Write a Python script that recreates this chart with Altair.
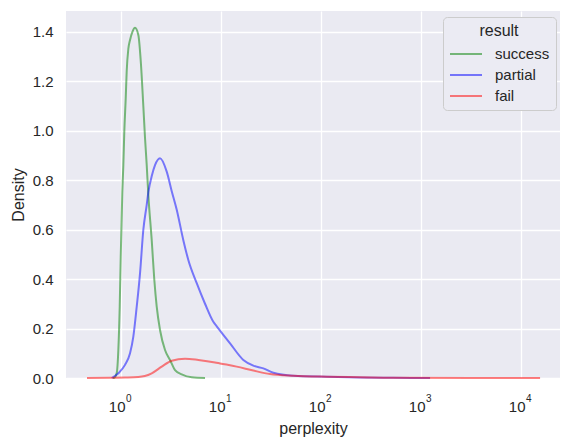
import altair as alt
import pandas as pd

# ---- data (x = perplexity, y = density) ----
success_x = [0.841, 0.867, 0.916, 0.951, 0.982, 1.005, 1.042, 1.067, 1.091, 1.127,
             1.153, 1.197, 1.245, 1.318, 1.396, 1.507, 1.603, 1.690, 1.758, 1.828,
             1.897, 2.051, 2.178, 2.301, 2.483, 2.786, 3.126, 3.508, 4.093, 5.152, 6.998]
success_y = [0.0, 0.001, 0.02, 0.113, 0.29, 0.49, 0.75, 0.86, 0.995, 1.13,
             1.24, 1.33, 1.366, 1.40, 1.415, 1.386, 1.265, 1.10, 0.97, 0.86,
             0.74, 0.557, 0.396, 0.288, 0.194, 0.113, 0.073, 0.032, 0.015, 0.003, 0.0]

partial_x = [0.817, 0.951, 1.109, 1.245, 1.343, 1.452, 1.567, 1.690, 1.828, 1.897,
             2.065, 2.213, 2.483, 2.897, 3.251, 3.648, 4.246, 4.764, 5.781, 6.998,
             8.472, 9.162, 12.45, 16.90, 21.28, 26.79, 33.73, 53.46, 115.3, 248.3,
             530.9, 1245.0]
partial_y = [0.0, 0.019, 0.053, 0.10, 0.167, 0.288, 0.423, 0.598, 0.70, 0.75,
             0.82, 0.86, 0.888, 0.834, 0.755, 0.68, 0.557, 0.477, 0.383, 0.30,
             0.227, 0.209, 0.14, 0.073, 0.05, 0.039, 0.021, 0.009, 0.005, 0.002,
             0.001, 0.0]

fail_x = [0.462, 0.785, 1.109, 1.507, 1.750, 2.051, 2.583, 3.251, 4.416, 5.998,
          8.810, 9.886, 14.52, 21.28, 31.26, 53.46, 115.3, 248.3, 530.9, 15670.0]
fail_y = [0.0, 0.001, 0.002, 0.004, 0.008, 0.019, 0.046, 0.07, 0.078, 0.073,
          0.063, 0.059, 0.046, 0.03, 0.016, 0.009, 0.005, 0.003, 0.001, 0.0]

results = ["success", "partial", "fail"]
colors = ["green", "blue", "red"]

tick_values = [1, 10, 100, 1000, 10000]
tick_base = ["10", "10", "10", "10", "10"]
tick_exp = ["0", "1", "2", "3", "4"]
y_ticks = [0.0, 0.2, 0.4, 0.6, 0.8, 1.0, 1.2, 1.4]

rows = []
for name, xs, ys in [("success", success_x, success_y),
                     ("partial", partial_x, partial_y),
                     ("fail", fail_x, fail_y)]:
    for i, (x, y) in enumerate(zip(xs, ys)):
        rows.append({"perplexity": x, "density": y, "result": name, "i": i})
df = pd.DataFrame(rows)
ticks = pd.DataFrame({"v": tick_values, "base": tick_base, "exp": tick_exp})

TXT = "#262626"
FONT = "Liberation Sans"

xscale = alt.Scale(type="log", domain=[0.285, 24800], nice=False)

lines = alt.Chart(df).mark_line(
    strokeWidth=2, opacity=0.5, interpolate="monotone"
).encode(
    x=alt.X("perplexity:Q", scale=xscale,
            axis=alt.Axis(values=tick_values, labels=False, ticks=False, domain=False,
                          title="perplexity", titleFontSize=16, titleFont=FONT,
                          titleFontWeight="normal", titleColor=TXT, titlePadding=42,
                          gridColor="white", gridWidth=1.3)),
    y=alt.Y("density:Q", scale=alt.Scale(domain=[0, 1.483], nice=False),
            axis=alt.Axis(values=y_ticks, format=".1f", ticks=False, domain=False,
                          labelFontSize=15, labelFont=FONT, labelColor=TXT,
                          labelPadding=13, title="Density", titleFontSize=16,
                          titleFont=FONT, titleFontWeight="normal", titleColor=TXT,
                          titlePadding=6, gridColor="white", gridWidth=1.3)),
    color=alt.Color("result:N", scale=alt.Scale(domain=results, range=colors),
                    sort=results,
                    legend=alt.Legend(
                        title="result", orient="none", legendX=377, legendY=6,
                        titleFontSize=16, titleFont=FONT, titleFontWeight="normal",
                        titleColor=TXT, titleAnchor="middle", titlePadding=4,
                        labelFontSize=15, labelFont=FONT, labelColor=TXT,
                        labelOffset=24, symbolType="M-1,0H2.2", symbolSize=400,
                        symbolStrokeWidth=2, symbolOpacity=0.5, rowPadding=2,
                        padding=6, fillColor="#EBEBF3", strokeColor="#CCCCCC",
                        cornerRadius=4)),
    detail="result:N",
    order="i:Q",
)

base_lbl = alt.Chart(ticks).mark_text(
    align="right", baseline="alphabetic", dx=5, fontSize=15, font=FONT, color=TXT
).encode(x=alt.X("v:Q", scale=xscale), y=alt.value(401), text="base:N")

exp_lbl = alt.Chart(ticks).mark_text(
    align="left", baseline="alphabetic", dx=5.5, fontSize=10, font=FONT, color=TXT
).encode(x=alt.X("v:Q", scale=xscale), y=alt.value(390.5), text="exp:N")

chart = alt.layer(lines, base_lbl, exp_lbl).properties(
    width=494, height=367,
    background="white",
    autosize=alt.AutoSizeParams(type="none"),
    padding={"left": 58, "top": 3, "right": 3, "bottom": 60},
).configure_view(
    fill="#EAEAF2", stroke=None
)

chart.save("out.html", embed_options={"renderer": "svg", "actions": False})
